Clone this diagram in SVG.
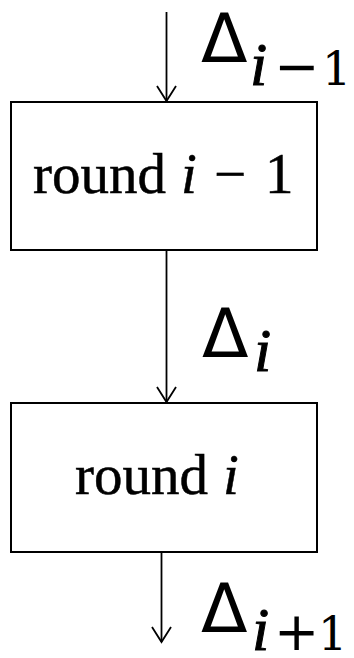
<svg xmlns="http://www.w3.org/2000/svg" width="354" height="658" viewBox="0 0 354 658">
  <style>
    .box { fill: #ffffff; stroke: #000000; stroke-width: 2; }
    .wire { fill: none; stroke: #000000; stroke-width: 1.8; marker-end: url(#vhead); }
    .lbl { font-family: "Liberation Serif", "Times New Roman", serif; font-size: 57px; fill: #000000; stroke: #000000; stroke-width: 0.5; }
    .it { font-style: italic; }
    .delta { font-family: "DejaVu Sans", "Liberation Sans", sans-serif; font-size: 68px; fill: #000000; }
    .si { font-family: "Liberation Serif", "Times New Roman", serif; font-style: italic; font-size: 62px; fill: #000000; stroke: #000000; stroke-width: 1; }
    .op { font-family: "DejaVu Sans", "Liberation Sans", sans-serif; font-size: 54px; fill: #000000; }
    .num { font-family: "DejaVu Serif", "Liberation Serif", serif; font-size: 46px; fill: #000000; }
  </style>
  <defs>
    <marker id="vhead" markerUnits="userSpaceOnUse" markerWidth="20" markerHeight="22" viewBox="-17 -11 20 22" refX="0" refY="0" orient="auto" overflow="visible">
      <path d="M-15,-9.5 L0,0 L-15,9.5" fill="none" stroke="#000000" stroke-width="1.8"/>
    </marker>
  </defs>
  <rect width="354" height="658" fill="#ffffff"/>

  <!-- connectors between rounds -->
  <g id="connectors">
    <line class="wire" x1="166.5" y1="12" x2="166.5" y2="101"/>
    <line class="wire" x1="166.5" y1="251" x2="166.5" y2="402"/>
    <line class="wire" x1="161.5" y1="553" x2="161.5" y2="642"/>
  </g>

  <g id="round-prev">
    <rect class="box" x="11" y="102" width="306" height="148"/>
    <text class="lbl" y="193"><tspan x="33">round</tspan><tspan class="it" x="181">i</tspan><tspan x="214">−</tspan><tspan x="265">1</tspan></text>
  </g>

  <g id="round-cur">
    <rect class="box" x="11" y="403" width="306" height="149"/>
    <text class="lbl" y="494"><tspan x="75">round</tspan><tspan class="it" x="223">i</tspan></text>
  </g>

  <g id="label-in">
    <text class="delta" x="201" y="62">Δ</text>
    <text class="si" x="250" y="85">i</text>
    <text class="op" x="274" y="85">−</text>
    <text class="num" x="322" y="85">1</text>
  </g>

  <g id="label-mid">
    <text class="delta" x="202" y="357">Δ</text>
    <text class="si" x="254" y="371">i</text>
  </g>

  <g id="label-out">
    <text class="delta" x="201" y="632">Δ</text>
    <text class="si" x="252" y="650">i</text>
    <text class="op" x="274" y="650">+</text>
    <text class="num" x="318" y="650">1</text>
  </g>
</svg>
